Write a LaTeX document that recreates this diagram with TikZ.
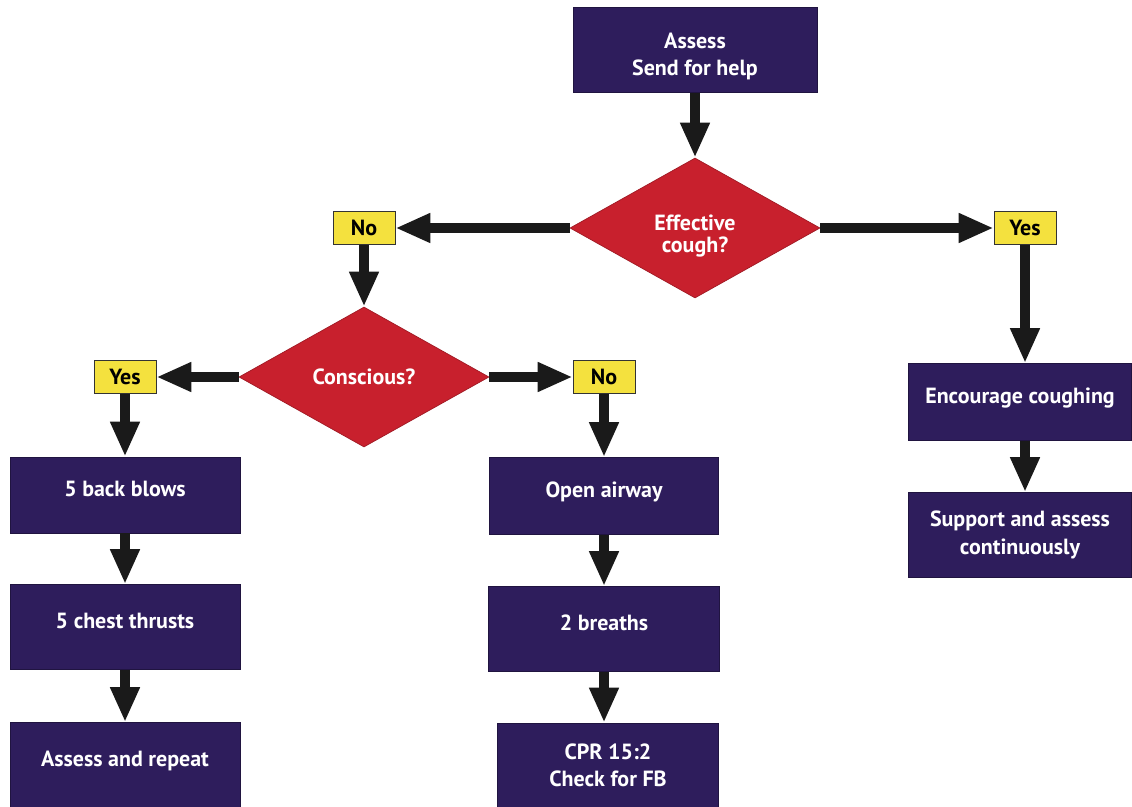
\documentclass[tikz,border=0pt]{standalone}
\usepackage{fontspec}
\setmainfont{PT Sans}
\usetikzlibrary{shapes.geometric,arrows.meta}
\definecolor{boxpurple}{HTML}{2E1D5C}
\definecolor{qred}{HTML}{C8202D}
\definecolor{tagyellow}{HTML}{F4E13E}
\definecolor{arrowblack}{HTML}{1A1A1A}
\begin{document}
\begin{tikzpicture}[x=0.2mm, y=-0.2mm,
	every node/.style={font=\bfseries\fontsize{12.5}{15.5}\selectfont, align=center},
	box/.style={rectangle, fill=boxpurple, draw=boxpurple!70!black, text=white, inner sep=2pt},
	oneline/.style={text depth=0.25cm},
	question/.style={diamond, aspect=1.8, fill=qred, draw=qred!80!black, text=white, inner sep=0pt, minimum width=5cm, minimum height=2.8cm, font=\bfseries\fontsize{12.5}{12.5}\selectfont},
	tag/.style={rectangle, fill=tagyellow, draw=black!80, text=black, minimum width=1.24cm, minimum height=0.66cm, inner sep=1pt},
	flow/.style={draw=arrowblack, line width=0.21cm, -{Triangle[length=0.7cm, width=0.55cm]}}]
	\useasboundingbox (0,0) rectangle (1132,807);

	% Start and first question
	\node[box, minimum width=4.88cm, minimum height=1.7cm, text height=1.1cm] (assess) at (695,50) {Assess\\Send for help};
	\node[question, text height=1.08cm] (cough) at (695,228) {Effective\\cough?};
	\node[tag] (coughno) at (364,228) {No};
	\node[tag] (coughyes) at (1025,228) {Yes};
	\draw[flow] (assess) -- (cough);
	\draw[flow] (cough) -- (coughno);
	\draw[flow] (cough) -- (coughyes);

	% Not coughing effectively
	\node[question] (conscious) at (364,377) {Conscious?};
	\node[tag] (conyes) at (125,377) {Yes};
	\node[tag] (conno) at (604,377) {No};
	\draw[flow] (coughno) -- (conscious);
	\draw[flow] (conscious) -- (conyes);
	\draw[flow] (conscious) -- (conno);

	% Conscious: left column
	\node[box, oneline, minimum width=4.6cm, minimum height=1.52cm] (blows) at (125,495) {5 back blows};
	\node[box, oneline, minimum width=4.6cm, minimum height=1.7cm] (thrusts) at (125,627) {5 chest thrusts};
	\node[box, oneline, minimum width=4.6cm, minimum height=1.7cm] (repeat) at (125,765) {Assess and repeat};
	\draw[flow] (conyes) -- (blows);
	\draw[flow] (blows) -- (thrusts);
	\draw[flow] (thrusts) -- (repeat);

	% Unconscious: middle column
	\node[box, oneline, minimum width=4.58cm, minimum height=1.54cm] (airway) at (604,496) {Open airway};
	\node[box, oneline, minimum width=4.62cm, minimum height=1.7cm] (breaths) at (604,629) {2 breaths};
	\node[box, minimum width=4.42cm, minimum height=1.68cm] (cpr) at (608,765) {CPR 15:2\\Check for FB};
	\draw[flow] (conno) -- (airway);
	\draw[flow] (airway) -- (breaths);
	\draw[flow] (breaths.south) -- (breaths.south |- cpr.north);

	% Coughing effectively: right column
	\node[box, oneline, minimum width=4.46cm, minimum height=1.54cm] (encourage) at (1020,402) {Encourage coughing};
	\node[box, minimum width=4.46cm, minimum height=1.7cm] (support) at (1020,535) {Support and assess\\continuously};
	\draw[flow] (coughyes) -- (coughyes |- encourage.north);
	\draw[flow] (encourage.south -| coughyes) -- (coughyes |- support.north);
\end{tikzpicture}
\end{document}
